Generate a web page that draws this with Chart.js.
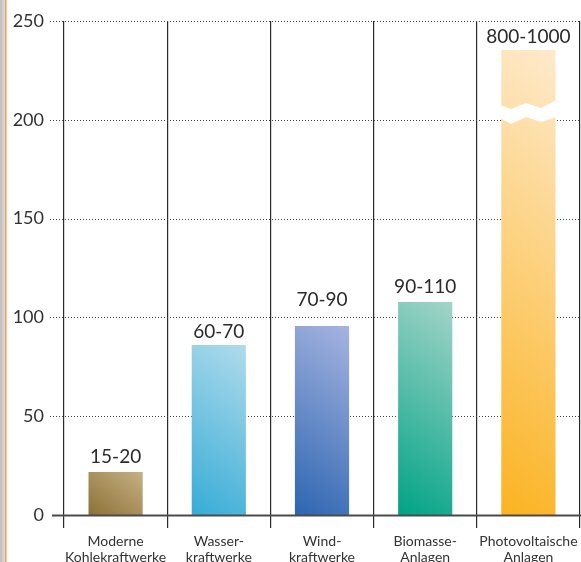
<!DOCTYPE html>
<html><head><meta charset="utf-8">
<script src="https://cdn.jsdelivr.net/npm/chart.js@4.4.1/dist/chart.umd.min.js"></script>
<style>html,body{margin:0;padding:0;background:#fff;overflow:hidden}#wrap{width:581px;height:562px;position:relative}</style>
</head><body><div id="wrap"><canvas id="c"></canvas></div>
<script>
const categories = [['Moderne','Kohlekraftwerke'],['Wasser-','kraftwerke'],['Wind-','kraftwerke'],['Biomasse-','Anlagen'],['Photovoltaische','Anlagen']];
const values = [21.8, 86, 95.6, 107.8, 235.3];
const valueLabels = ['15-20','60-70','70-90','90-110','800-1000'];
const yTicks = [0, 50, 100, 150, 200, 250];
const colorsDark = ['#8c7035','#36acd6','#2d65b1','#00a386','#fbb321'];
const colorsLight = ['#c6b185','#b0dbec','#a6b4e0','#a3d4c8','#feeacc'];
const breakBar = 4;
const breakValue = 204.2;

const barPct = 0.525;
const FONT = 'Lato';
const labelGaps = [9, 7, 20, 9, 7];
// zigzag break shape (pixel offsets, style only)
const zzX = [0, 0.19, 0.46, 0.72, 1];
const zzUp = [-6.5, -2.5, -8.5, -3.5, -11.5];
const zzLo = [6.5, 12.5, 5.5, 10.5, 5.5];
const gradSlope = 1.3;

const decor = {
  id: 'decor',
  beforeDraw(ch) {
    const c = ch.ctx;
    c.save();
    const g = c.createLinearGradient(0, 0, 5, 0);
    g.addColorStop(0, '#bdbdbd'); g.addColorStop(1, '#dcdcdc');
    c.fillStyle = g; c.fillRect(0, 0, 5, ch.height);
    c.fillStyle = '#f4a24e'; c.fillRect(5, 0, 1.6, ch.height);
    c.restore();
  },
  beforeDatasetsDraw(ch) {
    const c = ch.ctx, ys = ch.scales.y, a = ch.chartArea;
    c.save();
    c.strokeStyle = '#444'; c.lineWidth = 1; c.setLineDash([1, 2]);
    yTicks.forEach(v => {
      if (v === 0) return;
      const y = Math.round(ys.getPixelForValue(v)) + 0.5;
      c.beginPath(); c.moveTo(a.left - 14, y); c.lineTo(ch.width, y); c.stroke();
    });
    c.restore();
  },
  afterDatasetsDraw(ch) {
    const c = ch.ctx, ys = ch.scales.y, a = ch.chartArea;
    const meta = ch.getDatasetMeta(0);
    c.save();
    const y0 = ys.getPixelForValue(0);
    c.strokeStyle = '#4a4a4a'; c.lineWidth = 2;
    c.beginPath(); c.moveTo(a.left - 12, y0 + 0.5); c.lineTo(ch.width, y0 + 0.5); c.stroke();
    const el = meta.data[breakBar];
    const x0 = el.x - el.width / 2 - 1, w = el.width + 2;
    const yb = ys.getPixelForValue(breakValue);
    c.fillStyle = '#fff';
    c.beginPath();
    zzX.forEach((f, i) => { const x = x0 + f * w, y = yb + zzUp[i]; i ? c.lineTo(x, y) : c.moveTo(x, y); });
    for (let i = zzX.length - 1; i >= 0; i--) c.lineTo(x0 + zzX[i] * w, yb + zzLo[i]);
    c.closePath(); c.fill();
    c.fillStyle = '#2b2b2b'; c.font = '19px ' + FONT; c.textAlign = 'center'; c.textBaseline = 'alphabetic';
    meta.data.forEach((b, i) => c.fillText(valueLabels[i], b.x, b.y - labelGaps[i]));
    c.restore();
  }
};

new Chart(document.getElementById('c'), {
  type: 'bar',
  data: {
    labels: categories,
    datasets: [{
      data: values,
      barPercentage: barPct,
      categoryPercentage: 1,
      borderWidth: 0,
      backgroundColor: (ctx) => {
        const ch = ctx.chart, xs = ch.scales.x, ys = ch.scales.y;
        if (!xs || !ys || !ch.chartArea || ctx.type !== 'data') return colorsDark[ctx.dataIndex];
        const i = ctx.dataIndex;
        const cx = xs.getPixelForValue(i);
        const w = (xs.width / categories.length) * barPct;
        const top = ys.getPixelForValue(values[i]), bot = ys.getPixelForValue(0);
        const h = bot - top;
        const n = Math.hypot(1, gradSlope), ux = 1 / n, uy = gradSlope / n;
        const L = w * ux + h * uy;
        const x0 = cx - w / 2, y0 = bot;
        const g = ch.ctx.createLinearGradient(x0, y0, x0 + ux * L, y0 - uy * L);
        g.addColorStop(0, colorsDark[i]); g.addColorStop(1, colorsLight[i]);
        return g;
      }
    }]
  },
  options: {
    responsive: true, maintainAspectRatio: false, animation: false,
    layout: { padding: { top: 21, right: 1, left: 0, bottom: 0 } },
    plugins: { legend: { display: false }, tooltip: { enabled: false } },
    scales: {
      x: {
        grid: { offset: true, color: '#2a2a2a', lineWidth: 1.2, tickLength: 13, drawTicks: true },
        border: { display: false },
        ticks: { font: { family: FONT, size: 14, lineHeight: 1.15 }, color: '#333', padding: 5, maxRotation: 0, autoSkip: false },
        afterFit: s => { s.height = 47; s.paddingLeft = 0; s.paddingRight = 0; }
      },
      y: {
        min: 0, max: 250,
        afterBuildTicks: s => { s.ticks = yTicks.map(v => ({ value: v })); },
        grid: { display: false, drawTicks: false },
        border: { display: false },
        ticks: { font: { family: FONT, size: 18 }, color: '#333', padding: 20 },
        afterFit: s => { s.width = 64; s.paddingTop = 0; s.paddingBottom = 0; }
      }
    }
  },
  plugins: [decor]
});
</script>
</body></html>
